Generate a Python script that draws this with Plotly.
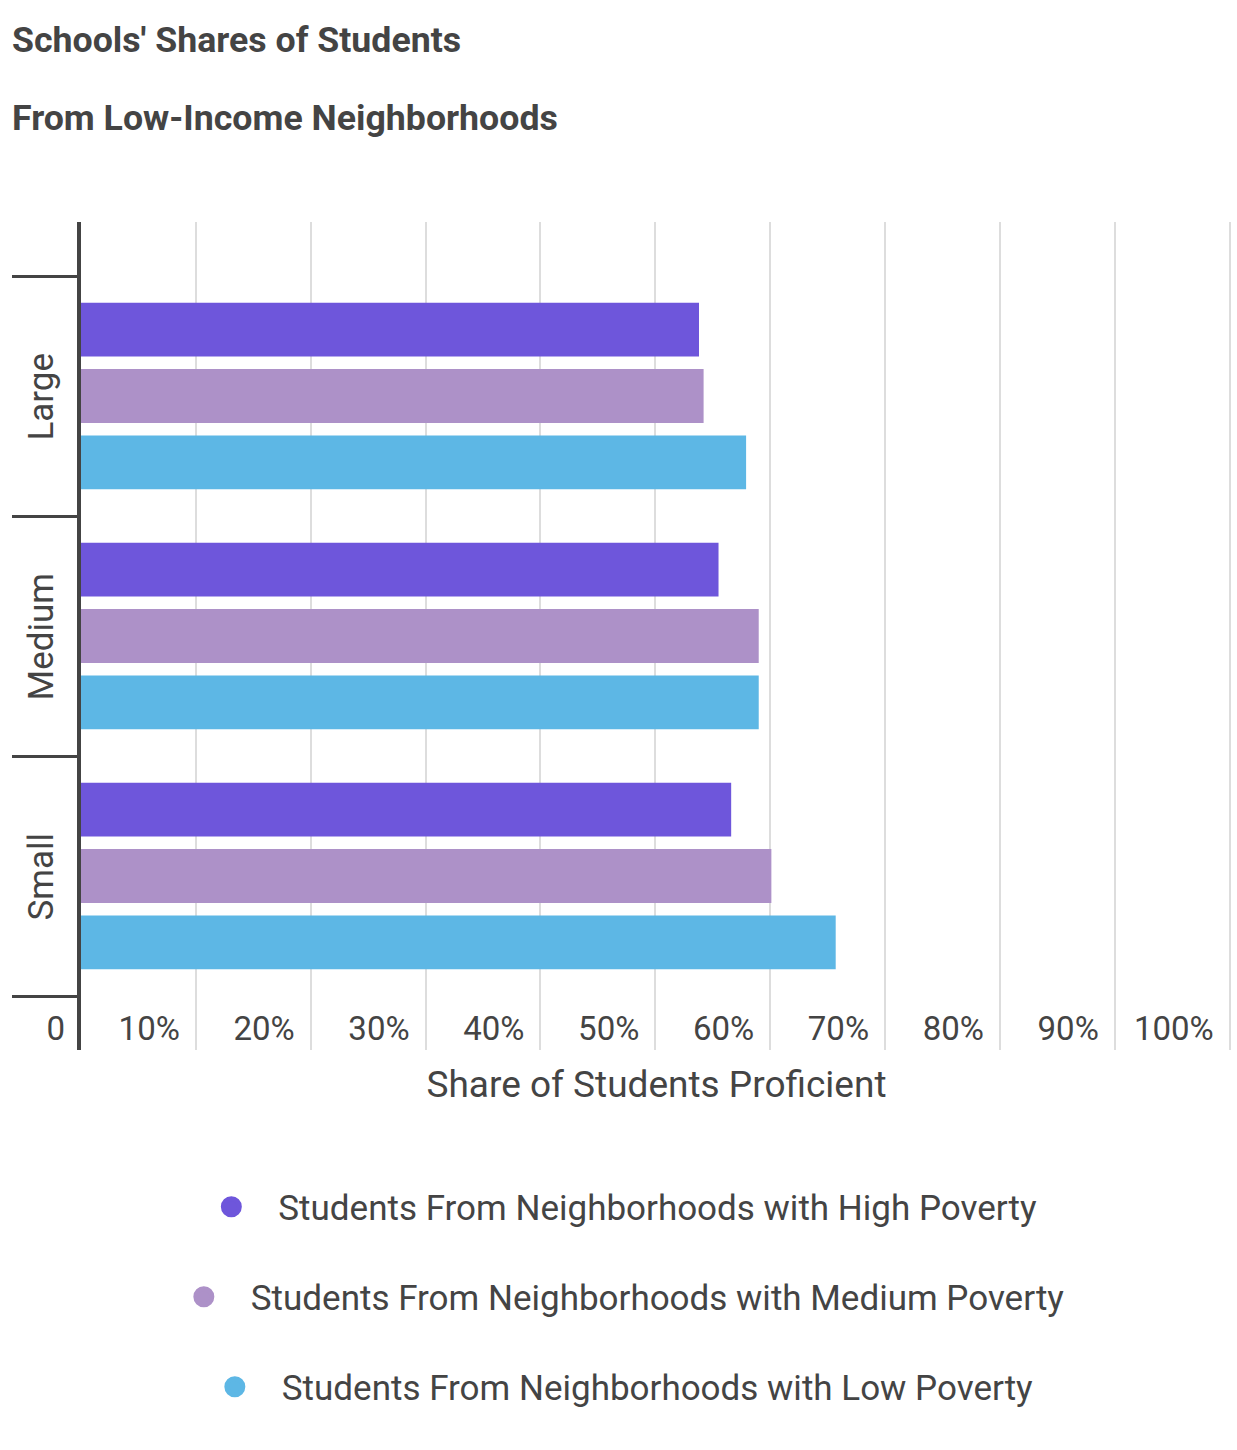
import plotly.graph_objects as go

# ---- data ----
categories = ["Large", "Medium", "Small"]
series_names = [
    "Students From Neighborhoods with High Poverty",
    "Students From Neighborhoods with Medium Poverty",
    "Students From Neighborhoods with Low Poverty",
]
high_poverty = [53.8, 55.5, 56.6]
medium_poverty = [54.2, 59.0, 60.1]
low_poverty = [57.9, 59.0, 65.7]
x_tick_values = [0, 10, 20, 30, 40, 50, 60, 70, 80, 90, 100]
x_tick_labels = ["0", "10%", "20%", "30%", "40%", "50%", "60%", "70%", "80%", "90%", "100%"]
title_line1 = "Schools' Shares of Students"
title_line2 = "From Low-Income Neighborhoods"
x_title = "Share of Students Proficient"

colors = ["#6E56DB", "#AD91C8", "#5DB7E5"]
TEXT = "#444444"
FONT = "Roboto"

cat_pos = list(range(len(categories)))
boundaries = [p - 0.5 for p in cat_pos] + [cat_pos[-1] + 0.5]

fig = go.Figure()
series = [high_poverty, medium_poverty, low_poverty]
legends = ["legend", "legend2", "legend3"]
for name, vals, col in zip(series_names, series, colors):
    fig.add_trace(go.Bar(
        x=vals, y=cat_pos, orientation="h", name=name,
        marker=dict(color=col, line=dict(width=0)),
        showlegend=False, legendgroup=name,
        hovertemplate="%{x:.1f}%<extra>" + name + "</extra>",
    ))
for name, col, lg in zip(series_names, colors, legends):
    fig.add_trace(go.Scatter(
        x=[None], y=[None], mode="markers", name=name,
        marker=dict(symbol="circle", size=16, color=col, line=dict(color=col, width=5)),
        legendgroup=name, legend=lg, showlegend=True,
    ))

legend_common = dict(
    xref="paper", x=0.4625, xanchor="center",
    yref="paper", yanchor="middle",
    font=dict(family=FONT, size=35, color=TEXT),
    itemwidth=84, bgcolor="rgba(0,0,0,0)",
)

fig.update_layout(
    width=1237, height=1450,
    margin=dict(l=81, r=5, t=222, b=400, autoexpand=False),
    paper_bgcolor="white", plot_bgcolor="white",
    barmode="group", bargap=0.17, bargroupgap=0.19,
    title=dict(
        text="<b>" + title_line1 + "</b>",
        xref="container", x=0.0097, xanchor="left",
        yref="container", y=1 - 40 / 1450, yanchor="middle",
        font=dict(family=FONT, size=35.7, color=TEXT),
    ),
    annotations=[dict(
        text="<b>" + title_line2 + "</b>", showarrow=False,
        xref="paper", x=-0.0621, xanchor="left",
        yref="paper", y=1 + (222 - 118) / 828, yanchor="middle",
        font=dict(family=FONT, size=35.7, color=TEXT),
    )],
    legend=dict(y=-(1207 - 1050) / 828, **legend_common),
    legend2=dict(y=-(1297 - 1050) / 828, **legend_common),
    legend3=dict(y=-(1387 - 1050) / 828, **legend_common),
    xaxis=dict(
        range=[0, 100.2], tickmode="array", tickvals=x_tick_values, ticktext=x_tick_labels,
        showgrid=True, gridcolor="#DDDDDD", gridwidth=2, zeroline=False, showline=False,
        ticks="", ticklabelposition="outside left", ticklabelstandoff=-44,
        ticklabelshift=-16, tickangle=0,
        tickfont=dict(family=FONT, size=33, color=TEXT),
        title=dict(text=x_title, standoff=24,
                   font=dict(family=FONT, size=37, color=TEXT)),
        automargin=False, fixedrange=True,
    ),
    yaxis=dict(
        range=[2.725, -0.725], tickmode="array", tickvals=cat_pos, ticktext=categories,
        tickangle=-90, ticks="", showgrid=False, zeroline=False,
        showline=True, linewidth=4, linecolor=TEXT,
        tickfont=dict(family=FONT, size=35, color=TEXT),
        ticklabelstandoff=10, ticklabelshift=-6,
        minor=dict(tickmode="array", tickvals=boundaries, ticks="outside",
                   ticklen=65, tickwidth=3, tickcolor=TEXT, showgrid=False),
        automargin=False, fixedrange=True,
    ),
)

fig.write_html("out.html")
